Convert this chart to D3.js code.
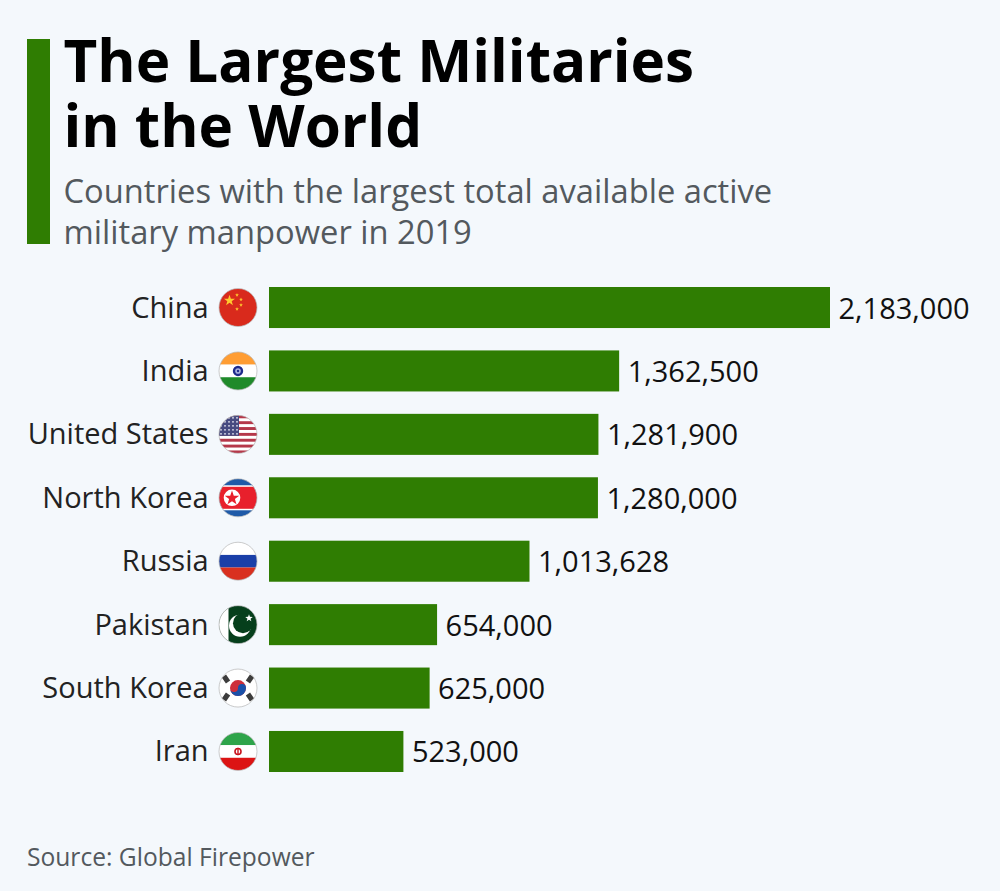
<!DOCTYPE html>
<html><head><meta charset="utf-8">
<script src="https://cdn.jsdelivr.net/npm/d3@7"></script>
<style>html,body{margin:0;padding:0;background:#f4f8fc}svg{display:block}text{font-family:"Open Sans",sans-serif}</style>
</head><body><div id="chart"></div>
<script>
const countries = ["China","India","United States","North Korea","Russia","Pakistan","South Korea","Iran"];
const manpower = [2183000,1362500,1281900,1280000,1013628,654000,625000,523000];
const titleLines = ["The Largest Militaries","in the World"];
const subtitleLines = ["Countries with the largest total available active","military manpower in 2019"];
const source = "Source: Global Firepower";
const green = "#2f7d02";

const svg = d3.select("#chart").append("svg").attr("width",1000).attr("height",891);
svg.append("rect").attr("width",1000).attr("height",891).attr("fill","#f4f8fc");
svg.append("rect").attr("x",27).attr("y",39).attr("width",23).attr("height",205).attr("fill",green);
svg.selectAll(".t").data(titleLines).join("text").attr("class","t").attr("x",63.5).attr("y",(d,i)=>82+i*65)
  .attr("font-size",58.4).attr("font-weight",700).attr("fill","#000").text(d=>d);
svg.selectAll(".s").data(subtitleLines).join("text").attr("class","s").attr("x",63.5).attr("y",(d,i)=>203+i*40.5)
  .attr("font-size",32.7).attr("fill","#53595e").text(d=>d);
svg.append("text").attr("x",27).attr("y",865.5).attr("font-size",24.6).attr("fill","#53595e").text(source);

const x = d3.scaleLinear().domain([0,2183000]).range([269,830]);
const y = d3.scaleBand().domain(countries).range([287,772]).paddingInner(0.353);
svg.selectAll(".bar").data(countries).join("rect").attr("class","bar")
  .attr("x",x(0)).attr("y",d=>y(d)).attr("height",y.bandwidth())
  .attr("width",(d,i)=>x(manpower[i])-x(0)).attr("fill",green);
svg.selectAll(".val").data(countries).join("text").attr("class","val")
  .attr("x",(d,i)=>x(manpower[i])+8.5).attr("y",d=>y(d)+y.bandwidth()/2+11)
  .attr("font-size",29).attr("fill","#111").text((d,i)=>d3.format(",")(manpower[i]));
svg.selectAll(".lab").data(countries).join("text").attr("class","lab")
  .attr("x",208.6).attr("y",d=>y(d)+y.bandwidth()/2+10)
  .attr("text-anchor","end").attr("font-size",29).attr("fill","#222").text(d=>d);

// Flag artwork in a 38-unit square centred at 0,0
const R=19;
function band(g,y0,y1,c){g.append("rect").attr("x",-R).attr("y",y0).attr("width",2*R).attr("height",y1-y0).attr("fill",c);}
function star(g,cx,cy,r,c){
  const pts=d3.range(10).map(i=>{const a=-Math.PI/2+i*Math.PI/5,q=i%2?r*0.4:r;return [cx+q*Math.cos(a),cy+q*Math.sin(a)];});
  g.append("polygon").attr("points",pts.join(" ")).attr("fill",c);
}
const flags={
 "China":g=>{band(g,-R,R,"#d92a1c");star(g,-8.5,-7,5.8,"#ffc82e");[[-1,-12.5],[3,-8],[3,-2.5],[-1,1.5]].forEach(p=>star(g,p[0],p[1],2,"#ffc82e"));},
 "India":g=>{band(g,-R,-6.3,"#ff9d33");band(g,-6.3,6.3,"#fff");band(g,6.3,R,"#1f8a2a");
   g.append("circle").attr("r",5.2).attr("fill","#1e2a8c");g.append("circle").attr("r",2.8).attr("fill","#aab2e0");g.append("circle").attr("r",1.2).attr("fill","#1e2a8c");},
 "United States":g=>{band(g,-R,R,"#fff");d3.range(7).forEach(i=>band(g,-R+i*5.85,-R+i*5.85+2.92,"#b5384a"));
   g.append("rect").attr("x",-R).attr("y",-R).attr("width",20).attr("height",20.5).attr("fill","#474a80");
   d3.range(5).forEach(r=>d3.range(5).forEach(c=>g.append("circle").attr("cx",-17+c*4).attr("cy",-16.5+r*4).attr("r",.9).attr("fill","#e6e6f0")));},
 "North Korea":g=>{band(g,-R,R,"#1e5aa8");band(g,-12.5,12.5,"#fff");band(g,-11,11,"#e8202c");
   g.append("circle").attr("cx",-6).attr("r",8.3).attr("fill","#fff");star(g,-6,0.3,7.6,"#e8202c");},
 "Russia":g=>{band(g,-R,-6.3,"#fff");band(g,-6.3,6.3,"#1a3fa8");band(g,6.3,R,"#d9301f");},
 "Pakistan":g=>{band(g,-R,R,"#063f1c");
   g.append("rect").attr("x",-R).attr("y",-R).attr("width",9.5).attr("height",2*R).attr("fill","#fff");
   g.append("circle").attr("cx",2).attr("cy",1).attr("r",11).attr("fill","#fff");g.append("circle").attr("cx",5).attr("cy",-1.5).attr("r",10).attr("fill","#063f1c");star(g,11,-6.5,4,"#fff");},
 "South Korea":g=>{band(g,-R,R,"#fff");
   g.append("circle").attr("r",8).attr("fill","#cd2e3a");g.append("path").attr("d","M-8,0A4,4 0 0 0 0,0A4,4 0 0 1 8,0A8,8 0 0 1 -8,0Z").attr("fill","#1a50a8");
   [[-12,-9,-35],[12,-9,35],[-12,9,35],[12,9,-35]].forEach(p=>{
     g.append("rect").attr("x",-3.6).attr("y",-2.6).attr("width",7.2).attr("height",5.2).attr("fill","#3c3c3c").attr("transform",`translate(${p[0]},${p[1]}) rotate(${p[2]+(p[2]>0?-90:90)})`);});},
 "Iran":g=>{band(g,-R,-6.3,"#2ea44a");band(g,-6.3,6.3,"#fff");band(g,6.3,R,"#dc1414");
   g.append("circle").attr("r",3).attr("fill","none").attr("stroke","#c8141e").attr("stroke-width",1.6);g.append("rect").attr("x",-.7).attr("y",-3.6).attr("width",1.4).attr("height",7.2).attr("fill","#c8141e");}
};
const defs=svg.append("defs");
defs.append("clipPath").attr("id","disc").append("circle").attr("r",R);
countries.forEach(c=>{
  const cy=y(c)+y.bandwidth()/2;
  const g=svg.append("g").attr("transform",`translate(238,${cy})`);
  const inner=g.append("g").attr("clip-path","url(#disc)");
  flags[c](inner);
  g.append("circle").attr("r",R).attr("fill","none").attr("stroke","#b5b5b5").attr("stroke-width",.7);
});
</script></body></html>
